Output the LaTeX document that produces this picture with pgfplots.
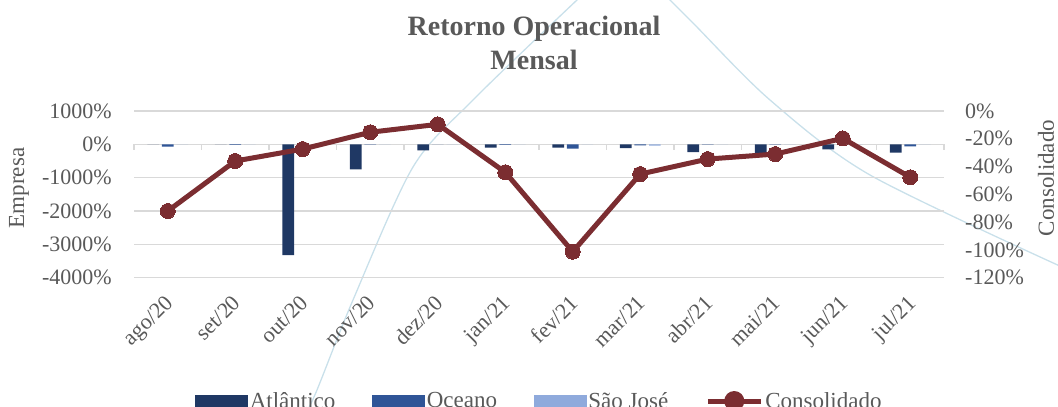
\documentclass[border=0pt]{standalone}
\usepackage{fontspec}
\setmainfont{Liberation Serif}
\usepackage{pgfplots}
\pgfplotsset{compat=1.18}
\definecolor{atl}{HTML}{1F3864}
\definecolor{oce}{HTML}{2F5597}
\definecolor{sjo}{HTML}{8FAADC}
\definecolor{cons}{HTML}{7B2D31}
\definecolor{txt}{HTML}{595959}
\definecolor{grd}{HTML}{D9D9D9}
\definecolor{deco}{HTML}{C9E0EA}
\begin{document}
\begin{tikzpicture}
\path[use as bounding box] (0pt,0pt) rectangle (1058pt,407pt);
% decorative background curves
\draw[deco, line width=1.3pt] plot[smooth] coordinates {(305pt,-8pt) (317pt,17pt) (353pt,107pt) (413pt,240pt) (473pt,307pt) (577pt,407pt) (588pt,416pt)};
\draw[deco, line width=1.3pt] plot[smooth] coordinates {(662pt,415pt) (693pt,384pt) (770pt,307pt) (870pt,232pt) (1062pt,140pt)};
% title
\node[anchor=base, font=\fontsize{28}{32}\selectfont\bfseries, text=txt] at (534pt,371pt) {Retorno Operacional};
\node[anchor=base, font=\fontsize{28}{32}\selectfont\bfseries, text=txt] at (534pt,337pt) {Mensal};
% axis titles
\node[rotate=90, font=\fontsize{23}{26}\selectfont, text=txt] at (19pt,219pt) {Empresa};
\node[rotate=90, font=\fontsize{23}{26}\selectfont, text=txt] at (1046pt,229pt) {Consolidado};
\begin{axis}[
  at={(134pt,129.3pt)}, anchor=south west,
  scale only axis, width=810pt, height=166.7pt,
  xmin=-0.5, xmax=11.5, ymin=-4000, ymax=1000,
  xtick={0,...,11},
  xticklabels={ago/20,set/20,out/20,nov/20,dez/20,jan/21,fev/21,mar/21,abr/21,mai/21,jun/21,jul/21},
  ytick={-4000,-3000,...,1000},
  yticklabels={-4000\%,-3000\%,-2000\%,-1000\%,0\%,1000\%},
  axis line style={draw=none}, major tick length=0pt,
  ymajorgrids, grid style={grd, line width=1.3pt},
  ticklabel style={font=\fontsize{22}{25}\selectfont, text=txt},
  yticklabel style={anchor=east, inner sep=0pt, xshift=-22pt},
  xticklabel style={xshift=-4pt, yshift=-16pt, rotate=45, anchor=north east, inner sep=0pt},
  clip=false,
]
\addplot[ybar, bar width=11.7pt, bar shift=-14.6pt, fill=atl, draw=none] coordinates {(0,0) (1,0) (2,-3320) (3,-750) (4,-180) (5,-100) (6,-100) (7,-110) (8,-230) (9,-270) (10,-150) (11,-250)};
\addplot[ybar, bar width=11.7pt, bar shift=0pt, fill=oce, draw=none] coordinates {(0,-70) (1,-15) (2,0) (3,-10) (4,0) (5,-15) (6,-130) (7,-30) (8,-10) (9,-10) (10,0) (11,-60)};
\addplot[ybar, bar width=11.7pt, bar shift=14.6pt, fill=sjo, draw=none] coordinates {(0,0) (1,0) (2,0) (3,0) (4,0) (5,0) (6,0) (7,-40) (8,0) (9,0) (10,0) (11,0)};
\end{axis}
% category tick marks on the zero line
\foreach \k in {0,...,12} \draw[grd, line width=1.3pt] ({134pt+\k*67.5pt},262.7pt) -- ++(0pt,-6pt);
\begin{axis}[
  at={(134pt,129.3pt)}, anchor=south west,
  scale only axis, width=810pt, height=166.7pt,
  xmin=-0.5, xmax=11.5, ymin=-120, ymax=0,
  axis line style={draw=none}, major tick length=0pt,
  xtick=\empty,
  ytick={-120,-100,...,0},
  yticklabels={-120\%,-100\%,-80\%,-60\%,-40\%,-20\%,0\%},
  yticklabel pos=right,
  ticklabel style={font=\fontsize{22}{25}\selectfont, text=txt},
  yticklabel style={anchor=west, inner sep=0pt, xshift=21pt},
  clip=false,
  legend columns=4,
  legend cell align=left,
  legend style={draw=none, fill=none, at={(0.5006,-0.740)}, anchor=center,
    font=\fontsize{23}{26}\selectfont, text=txt, inner sep=0pt,
    nodes={inner xsep=2pt, inner ysep=0pt},
    /tikz/every even column/.append style={column sep=35pt}},
]
\addlegendimage{legend image code/.code={\fill[atl] (0pt,-6pt) rectangle (52pt,6pt);}}
\addlegendentry{Atlântico}
\addlegendimage{legend image code/.code={\fill[oce] (0pt,-6pt) rectangle (52pt,6pt);}}
\addlegendentry{Oceano}
\addlegendimage{legend image code/.code={\fill[sjo] (0pt,-6pt) rectangle (52pt,6pt);}}
\addlegendentry{São José}
\addplot[color=cons, line width=5pt, mark=*, mark size=7.5pt,
  mark options={fill=cons, draw=cons, line width=0pt},
  legend image code/.code={\draw[cons, line width=5pt] (0pt,0pt) -- (53pt,0pt); \fill[cons] (26.5pt,0pt) circle (7.5pt);}]
  coordinates {(0,-72) (1,-36) (2,-27.4) (3,-15.3) (4,-9.6) (5,-44.1) (6,-101.3) (7,-45.4) (8,-34.6) (9,-31) (10,-19.7) (11,-47.7)};
\addlegendentry{Consolidado}
\end{axis}
\end{tikzpicture}
\end{document}
